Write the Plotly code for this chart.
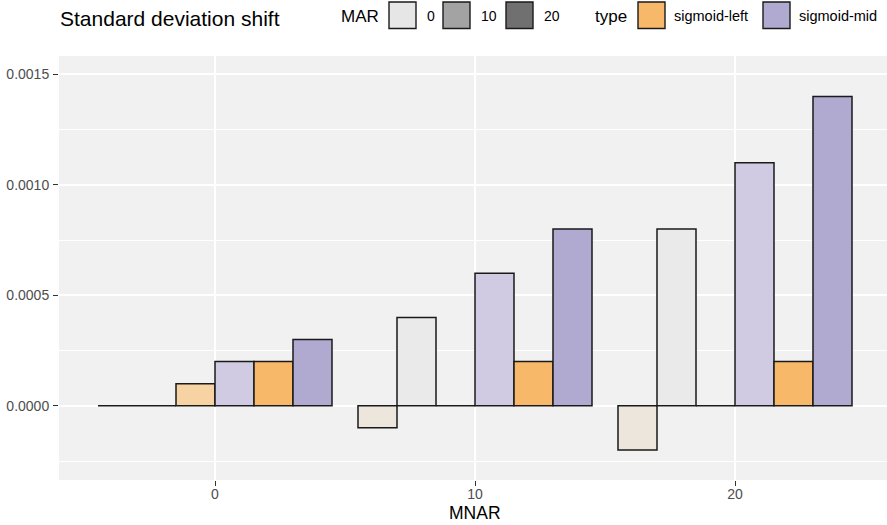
import plotly.graph_objects as go

# ---------------- data ----------------
mnar = ["0", "10", "20"]
mar_levels = ["0", "10", "20"]
types = ["sigmoid-left", "sigmoid-mid"]

left_mar0 = [0.0, -0.0001, -0.0002]
mid_mar0 = [0.0, 0.0004, 0.0008]
left_mar10 = [0.0001, 0.0, 0.0]
mid_mar10 = [0.0002, 0.0006, 0.0011]
left_mar20 = [0.0002, 0.0002, 0.0002]
mid_mar20 = [0.0003, 0.0008, 0.0014]

y_tickvals = [0.0, 0.0005, 0.0010, 0.0015]
y_ticktext = ["0.0000", "0.0005", "0.0010", "0.0015"]
y_minor = [-0.00025, 0.00025, 0.00075, 0.00125]

title_text = "Standard deviation shift"
x_title = "MNAR"

# ---------------- styles ----------------
series = [
    ("0", "sigmoid-left", left_mar0, "#ECE6DC"),
    ("0", "sigmoid-mid", mid_mar0, "#EAEAEA"),
    ("10", "sigmoid-left", left_mar10, "#F7D3A3"),
    ("10", "sigmoid-mid", mid_mar10, "#D0CAE3"),
    ("20", "sigmoid-left", left_mar20, "#F8B86A"),
    ("20", "sigmoid-mid", mid_mar20, "#B0AAD0"),
]
mar_key_colors = ["#E6E6E6", "#A3A3A3", "#707070"]
type_key_colors = ["#F8B86A", "#B0AAD0"]

W, H = 887, 525
L, R, T, B = 59, 0, 56, 45
PW, PH = W - L - R, H - T - B
FONT = "Liberation Sans, Arial, Helvetica, sans-serif"

fig = go.Figure()
for mar, typ, vals, col in series:
    fig.add_trace(go.Bar(
        x=mnar, y=vals, name=f"MAR {mar} {typ}",
        marker=dict(color=col, line=dict(color="#1A1A1A", width=1.5)),
        showlegend=False,
    ))


def px_x(px):
    return (px - L) / PW


def px_y(py):
    return (H - B - py) / PH


shapes = []
annotations = []

# title
annotations.append(dict(x=px_x(58), y=px_y(18), xref="paper", yref="paper",
                        text=title_text, showarrow=False, xanchor="left", yanchor="middle",
                        font=dict(size=21, color="#000000", family=FONT)))

# MAR legend
annotations.append(dict(x=px_x(339), y=px_y(16), xref="paper", yref="paper",
                        text="MAR", showarrow=False, xanchor="left", yanchor="middle",
                        font=dict(size=17, color="#000000", family=FONT)))
mar_key_x = [389, 443, 506]
for lvl, kx, kc in zip(mar_levels, mar_key_x, mar_key_colors):
    shapes.append(dict(type="rect", xref="paper", yref="paper",
                       x0=px_x(kx), x1=px_x(kx + 27), y0=px_y(28.5), y1=px_y(2),
                       fillcolor=kc, line=dict(color="#1A1A1A", width=1.4)))
    annotations.append(dict(x=px_x(kx + 36), y=px_y(16.5), xref="paper", yref="paper",
                            text=lvl, showarrow=False, xanchor="left", yanchor="middle",
                            font=dict(size=14, color="#000000", family=FONT)))

# type legend
annotations.append(dict(x=px_x(593), y=px_y(16), xref="paper", yref="paper",
                        text="type", showarrow=False, xanchor="left", yanchor="middle",
                        font=dict(size=17, color="#000000", family=FONT)))
type_key_x = [638, 763]
for lvl, kx, kc in zip(types, type_key_x, type_key_colors):
    shapes.append(dict(type="rect", xref="paper", yref="paper",
                       x0=px_x(kx), x1=px_x(kx + 27), y0=px_y(28.5), y1=px_y(2),
                       fillcolor=kc, line=dict(color="#1A1A1A", width=1.4)))
    annotations.append(dict(x=px_x(kx + 34), y=px_y(16.5), xref="paper", yref="paper",
                            text=lvl, showarrow=False, xanchor="left", yanchor="middle",
                            font=dict(size=14.5, color="#000000", family=FONT)))

# x axis title
annotations.append(dict(x=px_x(475), y=px_y(513), xref="paper", yref="paper",
                        text=x_title, showarrow=False, xanchor="center", yanchor="middle",
                        font=dict(size=17.5, color="#000000", family=FONT)))

fig.update_layout(
    width=W, height=H,
    margin=dict(l=L, r=R, t=T, b=B, pad=0),
    paper_bgcolor="white",
    plot_bgcolor="#F1F1F1",
    barmode="group", bargap=0.1, bargroupgap=0.0,
    font=dict(family=FONT),
    shapes=shapes,
    annotations=annotations,
    showlegend=False,
)
fig.update_xaxes(
    type="category", range=[-0.6, -0.6 + PW / 260.0],
    showgrid=True, gridcolor="white", gridwidth=1.8,
    ticks="outside", ticklen=5, tickwidth=1.2, tickcolor="#333333",
    tickfont=dict(size=14, color="#4D4D4D", family=FONT),
    ticklabelstandoff=-4,
    zeroline=False, showline=False,
)
fig.update_yaxes(
    range=[-0.000336, 0.001583],
    tickvals=y_tickvals, ticktext=y_ticktext,
    showgrid=True, gridcolor="white", gridwidth=1.8,
    ticks="outside", ticklen=5, tickwidth=1.2, tickcolor="#333333",
    tickfont=dict(size=14, color="#4D4D4D", family=FONT),
    ticklabelstandoff=1,
    zeroline=False, showline=False,
    minor=dict(tickvals=y_minor, showgrid=True, gridcolor="white", gridwidth=0.9, ticks=""),
)

fig.write_html(
    "out.html",
    config={"displayModeBar": False},
    post_script="document.body.style.margin='0';document.body.style.padding='0';",
)
